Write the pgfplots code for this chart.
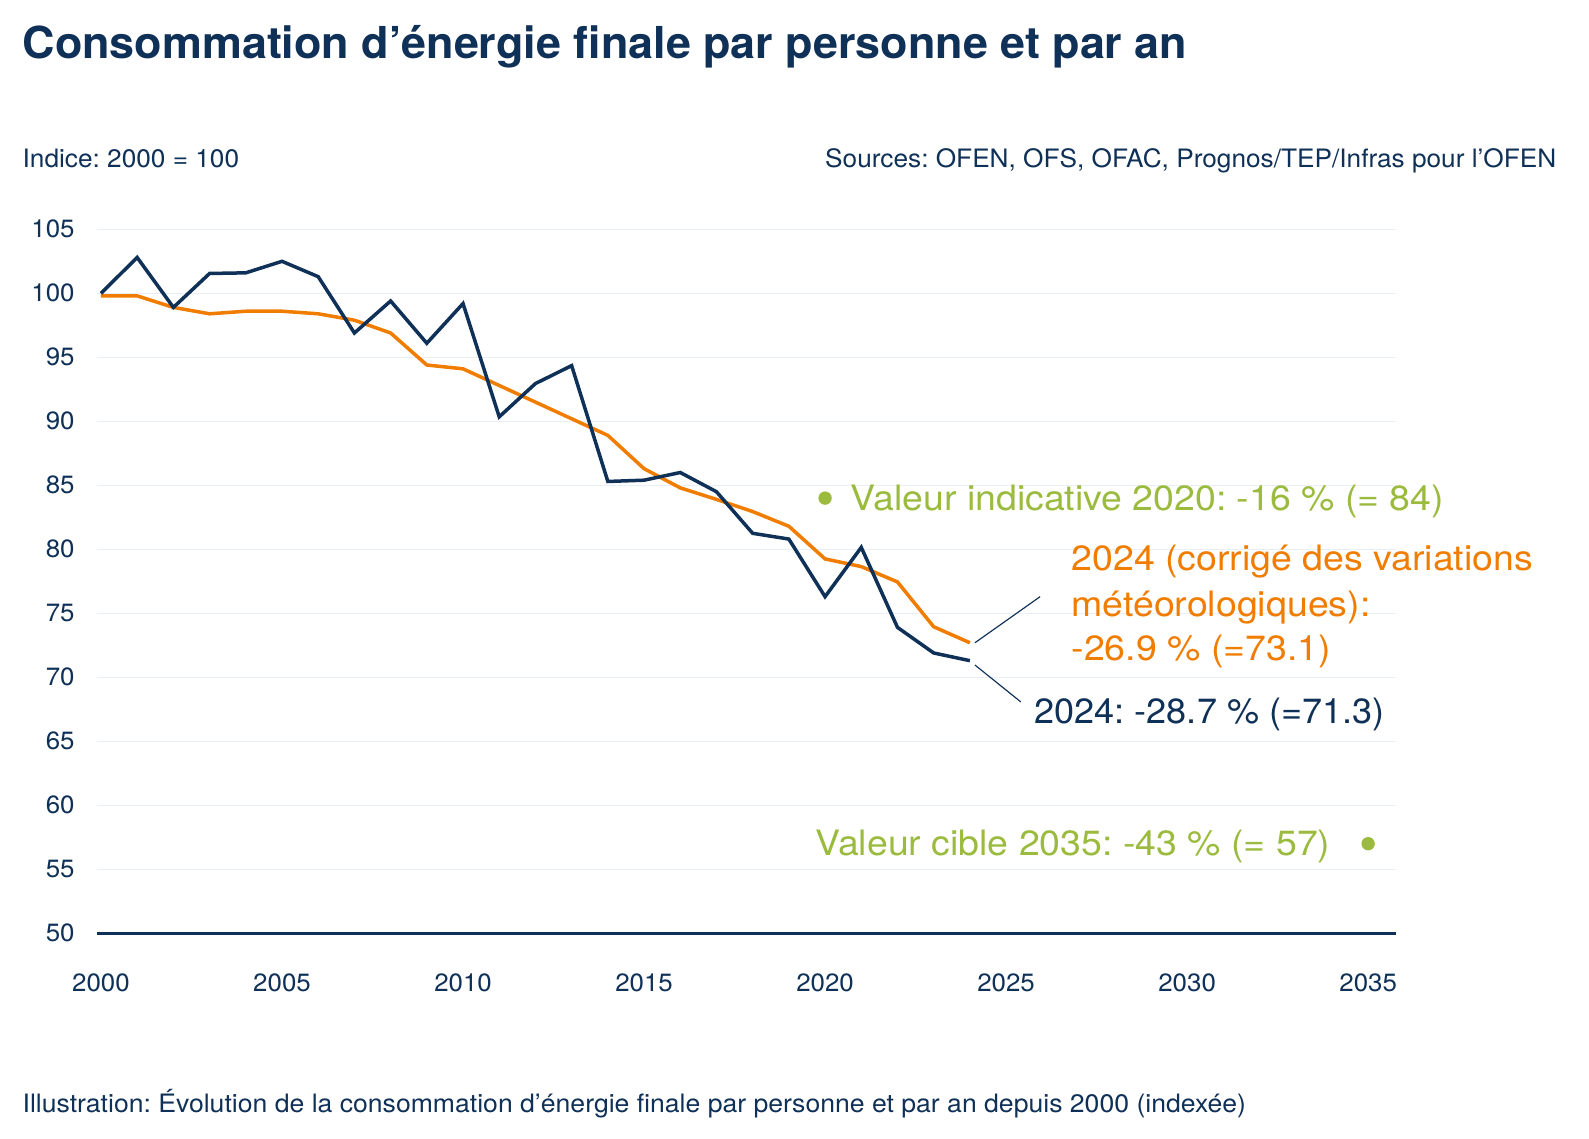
\documentclass[border=0pt]{standalone}
\usepackage{fontspec}
\setmainfont{TeX Gyre Heros}[FakeStretch=1.035]
\newfontfamily\annfont{TeX Gyre Heros}[FakeStretch=1.07]
\newfontfamily\annfontb{TeX Gyre Heros}[FakeStretch=1.03]
\newfontfamily\footfont{TeX Gyre Heros}[FakeStretch=1.05]
\newfontfamily\titlefont{TeX Gyre Heros Bold}[FakeStretch=1.02]
\frenchspacing
\usepackage{pgfplots}
\pgfplotsset{compat=1.18}
\definecolor{navy}{HTML}{0F3057}
\definecolor{ora}{HTML}{F07C00}
\definecolor{grn}{HTML}{9BBB3E}
\definecolor{gridc}{HTML}{E8EFF6}
\begin{document}
\begin{tikzpicture}
\begin{scope}[shift={(0,341.4pt)}, x=0.3pt, y=-0.3pt]
\useasboundingbox (0,0) rectangle (1589,1138);
\end{scope}
\begin{axis}[at={(29.1pt,61.41pt)}, anchor=south west, scale only axis,
  width=389.7pt, height=211.2pt,
  xmin=1999.89, xmax=2035.77, ymin=50, ymax=105,
  axis x line*=bottom, axis y line*=left,
  x axis line style={navy, line width=0.8pt, -},
  y axis line style={draw=none},
  xtick={2000,2005,...,2035}, ytick={50,55,...,105},
  ymajorgrids, major grid style={gridc, line width=0.35pt},
  major tick length=0pt,
  tick label style={font=\fontsize{7.5}{9}\selectfont, text=navy},
  /pgf/number format/assume math mode=true,
  /pgf/number format/1000 sep={},
  yticklabel style={xshift=-3.2pt},
  xticklabel style={yshift=-8.5pt},
  clip=false]
\addplot[ora, line width=1.05pt] coordinates {
(2000,99.8) (2001,99.8) (2002,98.9) (2003,98.4) (2004,98.6) (2005,98.6)
(2006,98.4) (2007,97.9) (2008,96.9) (2009,94.4) (2010,94.1) (2011,92.8)
(2012,91.5) (2013,90.2) (2014,88.9) (2015,86.3) (2016,84.8) (2017,83.9)
(2018,82.95) (2019,81.8) (2020,79.25) (2021,78.65) (2022,77.45) (2023,73.95) (2024,72.7)};
\addplot[navy, line width=1.05pt] coordinates {
(2000,100) (2001,102.8) (2002,98.9) (2003,101.55) (2004,101.6) (2005,102.5)
(2006,101.3) (2007,96.9) (2008,99.4) (2009,96.1) (2010,99.2) (2011,90.35)
(2012,92.95) (2013,94.35) (2014,85.3) (2015,85.4) (2016,86.0) (2017,84.5)
(2018,81.25) (2019,80.8) (2020,76.3) (2021,80.15) (2022,73.9) (2023,71.9) (2024,71.3)};
\addplot[only marks, mark=*, mark size=1.8pt, grn, mark options={draw=grn, fill=grn}] coordinates {(2020,84) (2035,57)};
\draw[navy, line width=0.35pt] (axis cs:2024.14,72.7) -- (axis cs:2025.94,76.3);
\draw[navy, line width=0.35pt] (axis cs:2024.14,70.96) -- (axis cs:2025.41,68.07);
\end{axis}
\begin{scope}[shift={(0,341.4pt)}, x=0.3pt, y=-0.3pt]
\node[anchor=base west, inner sep=0pt, text=navy, font=\titlefont\fontsize{13.2}{15}\selectfont] at (22,58.3) {Consommation d’énergie finale par personne et par an};
\node[anchor=base west, inner sep=0pt, text=navy, font=\fontsize{7.6}{9}\selectfont] at (22,168) {Indice: 2000 = 100};
\node[anchor=base east, inner sep=0pt, text=navy, font=\fontsize{7.6}{9}\selectfont] at (1557,168) {Sources: OFEN, OFS, OFAC, Prognos/TEP/Infras pour l’OFEN};
\node[anchor=base west, inner sep=0pt, text=grn, font=\annfont\fontsize{10.5}{12}\selectfont] at (850,510) {Valeur indicative 2020: -16 \% (= 84)};
\node[anchor=base east, inner sep=0pt, text=grn, font=\annfont\fontsize{10.5}{12}\selectfont] at (1331,855) {Valeur cible 2035: -43 \% (= 57)};
\node[anchor=base west, inner sep=0pt, text=ora, font=\annfont\fontsize{10.5}{12}\selectfont] at (1071,570) {2024 (corrigé des variations};
\node[anchor=base west, inner sep=0pt, text=ora, font=\annfont\fontsize{10.5}{12}\selectfont] at (1071,616.7) {météorologiques):};
\node[anchor=base west, inner sep=0pt, text=ora, font=\annfont\fontsize{10.5}{12}\selectfont] at (1071,660) {-26.9 \% (=73.1)};
\node[anchor=base west, inner sep=0pt, text=navy, font=\annfontb\fontsize{10.5}{12}\selectfont] at (1034,723) {2024: -28.7 \% (=71.3)};
\node[anchor=base west, inner sep=0pt, text=navy, font=\footfont\fontsize{7.6}{9}\selectfont] at (22,1112) {Illustration: Évolution de la consommation d’énergie finale par personne et par an depuis 2000 (indexée)};
\end{scope}
\end{tikzpicture}
\end{document}
